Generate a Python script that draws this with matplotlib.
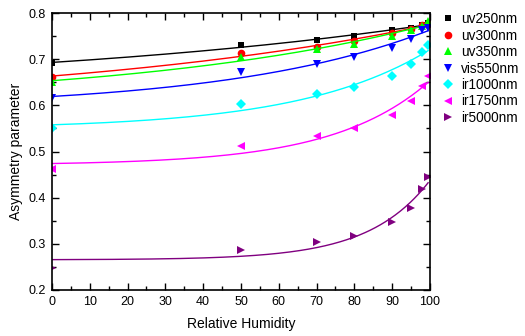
import numpy as np
import matplotlib
matplotlib.use('Agg')
import matplotlib.pyplot as plt
from matplotlib.ticker import MultipleLocator

plt.rcParams['font.family'] = ['Liberation Sans', 'DejaVu Sans']

# relative humidity (%)
rh = [0, 50, 70, 80, 90, 95, 98, 99.5]

# asymmetry parameter per wavelength
uv250 = [0.692, 0.731, 0.741, 0.750, 0.763, 0.768, 0.774, 0.778]
uv300 = [0.662, 0.713, 0.727, 0.740, 0.756, 0.765, 0.774, 0.777]
uv350 = [0.651, 0.705, 0.722, 0.733, 0.750, 0.763, 0.772, 0.783]
vis550 = [0.615, 0.672, 0.690, 0.704, 0.725, 0.744, 0.763, 0.768]
ir1000 = [0.550, 0.604, 0.624, 0.640, 0.664, 0.689, 0.715, 0.731]
ir1750 = [0.462, 0.513, 0.534, 0.550, 0.579, 0.609, 0.643, 0.663]
ir5000 = [0.248, 0.287, 0.304, 0.318, 0.347, 0.377, 0.418, 0.445]

labels = ['uv250nm', 'uv300nm', 'uv350nm', 'vis550nm', 'ir1000nm', 'ir1750nm', 'ir5000nm']
series = [uv250, uv300, uv350, vis550, ir1000, ir1750, ir5000]
colors = ['#000000', '#ff0000', '#00ff00', '#0000ff', '#00ffff', '#ff00ff', '#800080']
markers = ['s', 'o', '^', 'v', 'D', '<', '>']
msizes = [5, 5.5, 6, 6, 5, 6, 6]


# fit g = a + b*exp(c*RH) to each series
def fit_exp(x, y):
    x = np.asarray(x, float)
    y = np.asarray(y, float)
    best = None
    for c in np.linspace(0.002, 0.12, 600):
        A = np.column_stack([np.ones_like(x), np.exp(c * x)])
        coef, res, _, _ = np.linalg.lstsq(A, y, rcond=None)
        err = np.sum((A @ coef - y) ** 2)
        if best is None or err < best[0]:
            best = (err, coef[0], coef[1], c)
    return best[1:]


fig = plt.figure(figsize=(5.25, 3.36), dpi=100)
ax = fig.add_axes([0.099, 0.137, 0.72, 0.824])

xf = np.linspace(0, 99.5, 300)
handles = []
for y, lab, col, mk, ms in zip(series, labels, colors, markers, msizes):
    a, b, c = fit_exp(rh, y)
    ax.plot(xf, a + b * np.exp(c * xf), color=col, lw=1)
    h, = ax.plot(rh, y, linestyle='none', marker=mk, color=col, ms=ms,
                 markeredgewidth=0, label=lab)
    handles.append(h)

ax.set_xlim(0, 100)
ax.set_ylim(0.2, 0.8)
ax.xaxis.set_major_locator(MultipleLocator(10))
ax.xaxis.set_minor_locator(MultipleLocator(5))
ax.yaxis.set_major_locator(MultipleLocator(0.1))
ax.yaxis.set_minor_locator(MultipleLocator(0.05))
ax.tick_params(which='both', direction='in', top=True, right=True,
               labelsize=9, width=1, pad=4.5)
ax.tick_params(which='major', length=5)
ax.tick_params(which='minor', length=3)
for s in ax.spines.values():
    s.set_linewidth(1.2)

ax.set_xlabel('Relative Humidity', fontsize=10, labelpad=6)
ax.set_ylabel('Asymmetry parameter', fontsize=10, labelpad=4)

fig.legend(handles=handles, loc='upper left', bbox_to_anchor=(0.828, 0.98),
           frameon=False, fontsize=9.8, handletextpad=0.45, labelspacing=0.18,
           handlelength=1.1, borderaxespad=0)

plt.savefig('out.png', dpi=100)
plt.close()
